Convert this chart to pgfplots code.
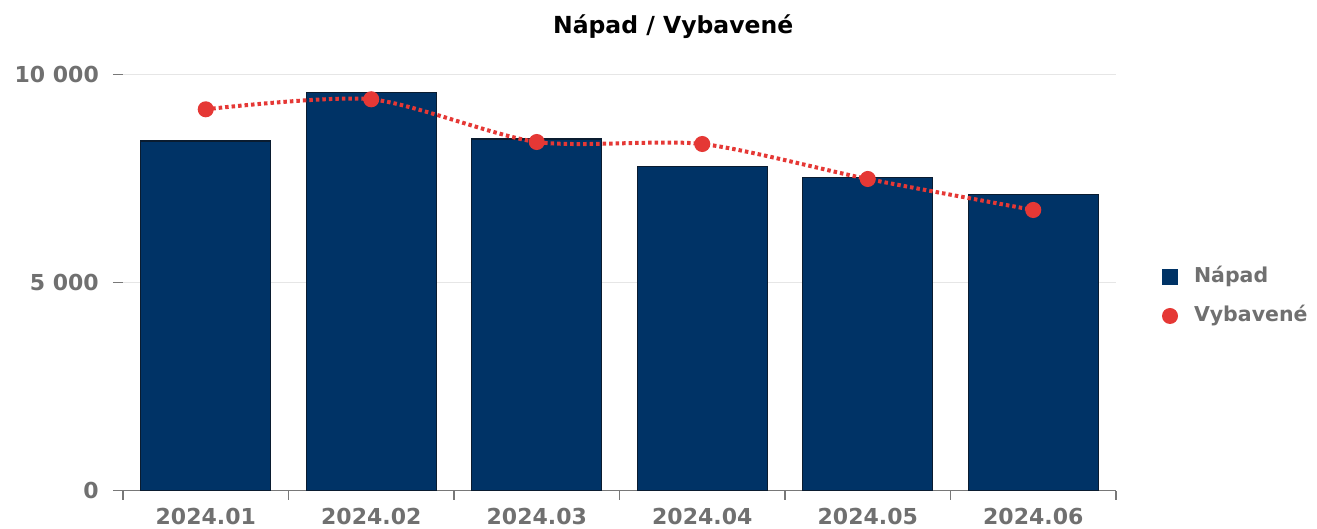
\documentclass[border=0pt]{standalone}
\usepackage{fontspec}
\setmainfont{DejaVu Sans}
\usepackage{pgfplots}
\pgfplotsset{compat=1.18}
\definecolor{navy}{RGB}{0,51,102}
\definecolor{navyedge}{RGB}{10,28,48}
\definecolor{redline}{RGB}{229,56,53}
\definecolor{tickgrey}{RGB}{112,112,112}
\definecolor{gridgrey}{RGB}{230,230,230}
\definecolor{axisgrey}{RGB}{120,120,120}
\begin{document}
\begin{tikzpicture}
\useasboundingbox (-123pt,-38.3pt) rectangle (1194pt,490.7pt);
\begin{axis}[
  scale only axis, width=993pt, height=416pt,
  xmin=-0.5, xmax=5.5, ymin=0, ymax=10000,
  axis x line*=bottom, axis y line*=left,
  x axis line style={draw=axisgrey, line width=1.3pt, -},
  y axis line style={draw=none, -},
  xtick={0,1,2,3,4,5},
  xticklabels={2024.01,2024.02,2024.03,2024.04,2024.05,2024.06},
  major x tick style={draw=none},
  minor xtick={-0.5,0.5,1.5,2.5,3.5,4.5,5.5},
  minor x tick style={draw=axisgrey, line width=1.3pt},
  minor tick length=9pt,
  ytick={0,5000,10000}, yticklabels={0,5 000,10 000},
  scaled y ticks=false,
  ytick style={draw=axisgrey, line width=1.3pt},
  major y tick style={draw=axisgrey, line width=1.3pt},
  major tick length=10pt,
  tick align=outside,
  ymajorgrids, grid style={gridgrey, line width=1.3pt},
  xticklabel style={font=\fontsize{22}{26}\bfseries\selectfont, text=tickgrey, anchor=north, inner sep=0pt, text height=16pt, yshift=-8pt},
  yticklabel style={font=\fontsize{22}{26}\bfseries\selectfont, text=tickgrey, anchor=east, inner sep=0pt, xshift=-14pt},
  title={Nápad / Vybavené},
  title style={font=\fontsize{23.5}{28}\bfseries\selectfont, text=black, at={(0.554,1)}, anchor=base, yshift=34.7pt},
  legend style={draw=none, fill=none, at={(1.04632,0.53714)}, anchor=north west, inner sep=0pt, outer sep=0pt, row sep=19.5pt, column sep=16pt,
    nodes={font=\fontsize{20.5}{24}\bfseries\selectfont, text=tickgrey, inner sep=0pt, text height=15pt, text depth=4.5pt}},
  legend cell align=left,
]
\addplot[ybar, bar width=130pt, fill=navy, draw=navyedge, line width=1.2pt,
  legend image code/.code={\path[draw=none, fill=navy] (0pt,-8pt) rectangle (16pt,8pt);}]
  coordinates {(0,8406) (1,9577) (2,8454) (3,7788) (4,7534) (5,7115)};
\addlegendentry{Nápad}
\addplot[smooth, tension=0.45, redline, line width=4pt, line cap=butt, dash pattern=on 3.5pt off 3pt,
  mark=*, mark size=6pt, mark options={solid, fill=redline, draw=none},
  legend image code/.code={\path[draw=none, solid, fill=redline] (8pt,0pt) circle (8pt);}]
  coordinates {(0,9168) (1,9409) (2,8382) (3,8334) (4,7493) (5,6748)};
\addlegendentry{Vybavené}
\end{axis}
\end{tikzpicture}
\end{document}
